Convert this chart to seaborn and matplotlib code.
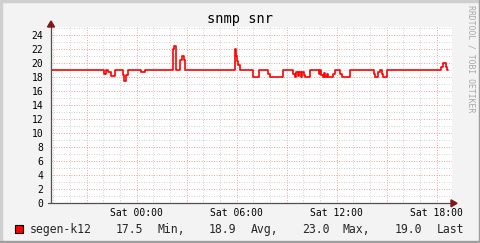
import matplotlib
matplotlib.use("Agg")
import matplotlib.pyplot as plt
from matplotlib.patches import Polygon, Rectangle
from matplotlib.ticker import MultipleLocator
import seaborn as sns
import pandas as pd

# ---- data (hours relative to Sat 00:00, value holds until next step) ----
step_hours = [-5.14, -1.96, -1.84, -1.72, -1.54, -1.30, -0.82, -0.76, -0.64, -0.52,
              0.26, 0.50, 2.18, 2.24, 2.36, 2.60, 2.69, 2.84, 2.90,
              5.90, 5.98, 6.02, 6.08, 6.20, 6.98, 7.34, 7.88, 8.00, 8.78,
              9.38, 9.47, 9.56, 9.65, 9.74, 9.83, 9.92, 10.01, 10.10, 10.40,
              10.94, 11.00, 11.06, 11.18, 11.24, 11.30, 11.42, 11.48, 11.78, 11.90,
              12.20, 12.32, 12.80, 14.24, 14.30, 14.48, 14.60, 14.72, 14.78, 15.02,
              18.26, 18.38, 18.56, 18.62, 18.68]
snr_values = [19.0, 18.5, 19.0, 18.7, 18.2, 19.0, 18.3, 17.5, 18.3, 19.0,
              18.8, 19.0, 22.0, 22.5, 19.0, 20.5, 21.0, 20.5, 19.0,
              22.0, 21.0, 20.3, 19.7, 19.0, 18.0, 19.0, 18.5, 18.0, 19.0,
              18.5, 18.0, 18.7, 18.2, 18.8, 18.0, 18.8, 18.3, 18.0, 19.0,
              18.5, 19.0, 18.3, 18.0, 18.6, 18.0, 18.5, 18.0, 18.5, 19.0,
              18.5, 18.0, 19.0, 18.5, 18.0, 18.8, 19.0, 18.5, 18.0, 19.0,
              19.5, 20.0, 19.5, 19.0, 19.0]
x_tick_hours = [0, 6, 12, 18]
x_tick_labels = ["Sat 00:00", "Sat 06:00", "Sat 12:00", "Sat 18:00"]
series_name = "segen-k12"
legend_stats = ["17.5", "Min,", "18.9", "Avg,", "23.0", "Max,", "19.0", "Last"]
title_text = "snmp snr"
watermark = "RRDTOOL / TOBI OETIKER"

df = pd.DataFrame({"hour": step_hours, "snr": snr_values})

W, H = 481, 243
BG = "#F3F3F3"
MONO = "DejaVu Sans Mono"

sns.set_theme(style="white")
plt.rcParams["font.family"] = [MONO, "DejaVu Sans"]

fig = plt.figure(figsize=(W / 100, H / 100), dpi=100, facecolor=BG)

def fx(x):
    return x / W

def fy(y):
    return 1 - y / H

x0, x1 = 51, 452
y0, y1 = 203.3, 27
ax = fig.add_axes([fx(x0), fy(y0), fx(x1 - x0), (y0 - y1) / H])
ax.set_facecolor("white")

xmin = (x0 - 136.7) / 16.667
xmax = (x1 - 136.7) / 16.667
ax.set_xlim(xmin, xmax)
ax.set_ylim(0, (y0 - y1) / 7.0)

sns.lineplot(data=df, x="hour", y="snr", ax=ax, color="#FF0000", linewidth=1.2,
             drawstyle="steps-post", estimator=None, sort=False, legend=False)

# grids
ax.xaxis.set_major_locator(MultipleLocator(3))
ax.xaxis.set_minor_locator(MultipleLocator(1))
ax.yaxis.set_major_locator(MultipleLocator(2))
ax.yaxis.set_minor_locator(MultipleLocator(1))
ax.grid(which="minor", color="#D4D4D4", linestyle=(0, (1, 1.5)), linewidth=0.72)
ax.grid(which="major", color="#EBA8A8", linestyle=(0, (1, 1.5)), linewidth=0.72)
ax.set_axisbelow(True)

xt = list(range(-3, 19, 3))
ax.set_xticks(xt)
ax.set_xticklabels([x_tick_labels[x_tick_hours.index(t)] if t in x_tick_hours else "" for t in xt])
yt = list(range(0, 25, 2))
ax.set_yticks(yt)
ax.set_yticklabels([str(v) for v in yt])
ax.tick_params(axis="both", which="minor", length=0)
ax.tick_params(axis="y", which="major", direction="out", length=2.2, width=0.72,
               color="#505050", pad=3.2, labelsize=7, labelcolor="black")
ax.tick_params(axis="x", which="major", direction="out", length=1.5, width=0.72,
               color="#505050", pad=2.2, labelsize=7, labelcolor="black")
ax.set_xlabel("")
ax.set_ylabel("")

for s in ["top", "right", "left", "bottom"]:
    ax.spines[s].set_visible(False)

# axis lines and arrows
arrow_col = "#801818"
fig.lines.append(plt.Line2D([fx(51), fx(51)], [fy(203.3), fy(26)], transform=fig.transFigure,
                            color="#505050", lw=0.9))
fig.lines.append(plt.Line2D([fx(48), fx(452)], [fy(203.3), fy(203.3)], transform=fig.transFigure,
                            color="#505050", lw=0.9))
fig.patches.append(Polygon([[fx(51), fy(21)], [fx(47.5), fy(27)], [fx(54.5), fy(27)]],
                           closed=True, transform=fig.transFigure, color=arrow_col, zorder=10))
fig.patches.append(Polygon([[fx(457), fy(203.3)], [fx(451), fy(199.8)], [fx(451), fy(206.8)]],
                           closed=True, transform=fig.transFigure, color=arrow_col, zorder=10))

# frame shading
fig.patches.append(Rectangle((0, 0), fx(2), 1, transform=fig.transFigure, color="#CFCFCF", zorder=0))
fig.patches.append(Rectangle((0, fy(2)), 1, 2 / H, transform=fig.transFigure, color="#CFCFCF", zorder=0))
fig.patches.append(Rectangle((fx(W - 2), 0), fx(2), 1, transform=fig.transFigure, color="#9E9E9E", zorder=0))
fig.patches.append(Rectangle((0, 0), 1, 2 / H, transform=fig.transFigure, color="#9E9E9E", zorder=0))

# title
fig.text(fx(240), fy(19), title_text, ha="center", va="center", fontsize=9.8, family=MONO, color="black")

# watermark
fig.text(fx(471.5), fy(5), watermark, ha="center", va="top", rotation=270, fontsize=5.9,
         family=MONO, color="#A8A8A8")

# legend
fig.patches.append(Rectangle((fx(15.3), fy(233)), fx(7.7), 7.7 / H, transform=fig.transFigure,
                             facecolor="#FF0000", edgecolor="black", linewidth=0.8, zorder=10))
fig.text(fx(30), fy(229.3), series_name, ha="left", va="center", fontsize=8.3, family=MONO)
stat_x = [116, 157, 209, 251, 302, 343, 395, 437]
for sx, st in zip(stat_x, legend_stats):
    fig.text(fx(sx), fy(229.3), st, ha="left", va="center", fontsize=8.3, family=MONO)

fig.savefig("out.png", dpi=100, facecolor=BG)
